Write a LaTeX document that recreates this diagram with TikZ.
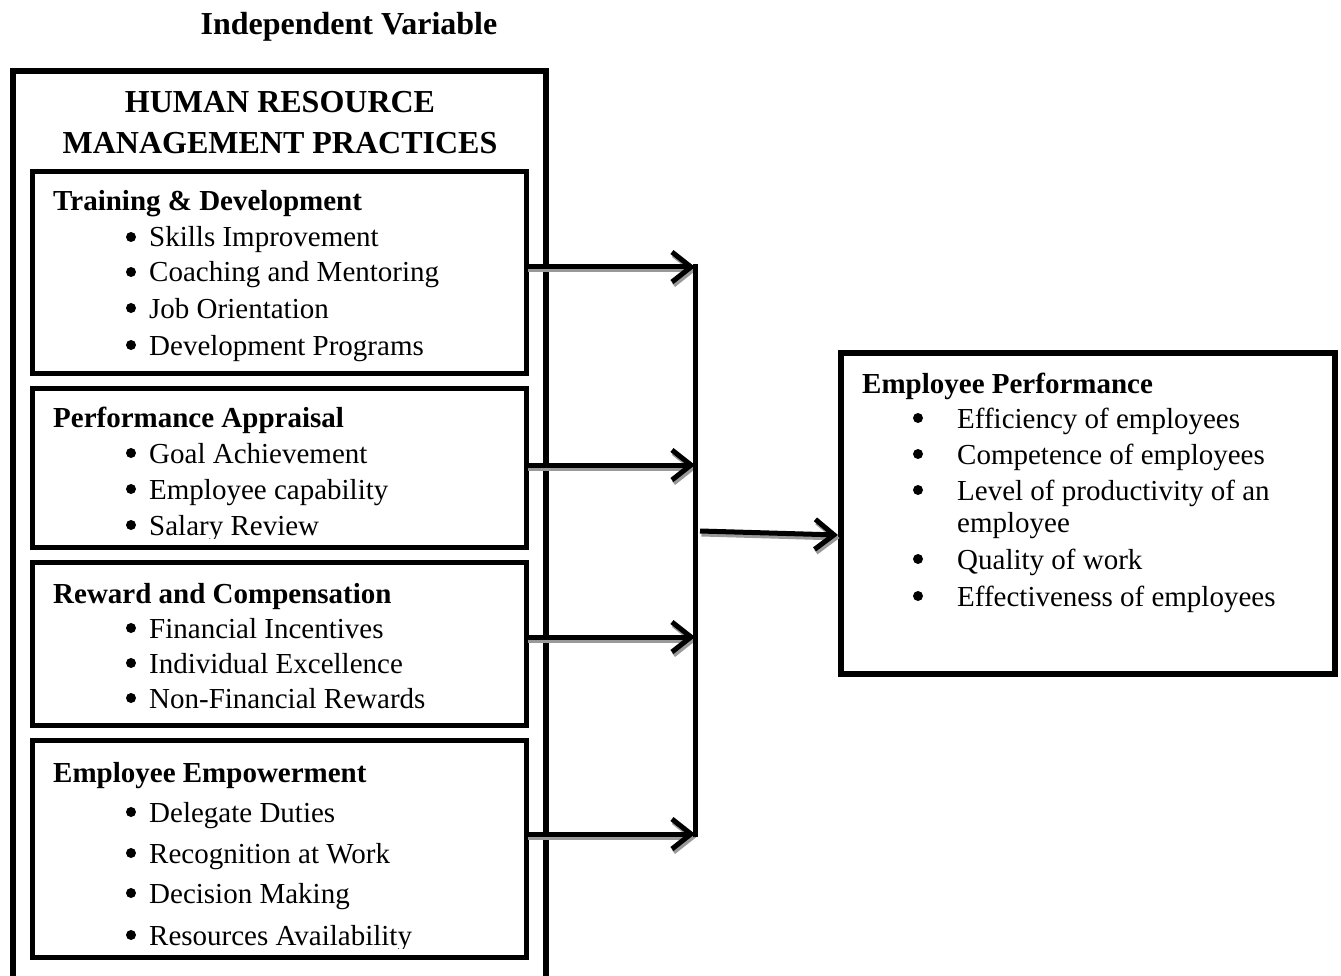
\documentclass[tikz,border=0pt]{standalone}
\usepackage{fontspec}
\setmainfont{Liberation Serif}
\usetikzlibrary{arrows.meta}
\begin{document}
\begin{tikzpicture}[x=1pt,y=-1pt,
  title/.style={anchor=base,inner sep=0pt,font=\fontsize{32}{38}\selectfont\bfseries},
  head/.style={anchor=base west,inner sep=0pt,font=\fontsize{29}{35}\selectfont\bfseries},
  item/.style={anchor=base west,inner sep=0pt,font=\fontsize{29}{35}\selectfont},
  bul/.style={circle,fill=black,inner sep=0pt,minimum size=10pt,yshift=10pt},
  frame/.style={draw=black,line width=5pt,line join=miter},
  conn/.style={line width=5pt,line cap=butt},
  arr/.style={conn,-{Straight Barb[length=19pt,width=30pt,line join=miter]}},
  shadowarr/.style={arr,draw=black!40}
]
\useasboundingbox (0,0) rectangle (1341,976);
\fill[white] (0,0) rectangle (1341,976);

% title
\node[title] (iv) at (349,35) {Independent Variable};

% outer box (extends below the picture)
\begin{scope}
\clip (0,0) rectangle (1341,976);
\draw[frame,line width=6pt] (13,71) rectangle (546,1000);
\end{scope}
\node[title] (hrm1) at (280,113) {HUMAN RESOURCE};
\node[title] (hrm2) at (280,154) {MANAGEMENT PRACTICES};

% box 1
\node[head] (h1) at (53,211) {Training \& Development};
\node[bul] (b11) at (131,247) {}; \node[item] (t11) at (149,247) {Skills Improvement};
\node[bul] (b12) at (131,282) {}; \node[item] (t12) at (149,282) {Coaching and Mentoring};
\node[bul] (b13) at (131,318) {}; \node[item] (t13) at (149,318) {Job Orientation};
\node[bul] (b14) at (131,355) {}; \node[item] (t14) at (149,355) {Development Programs};
\draw[frame] (32,172) rectangle (526,373);

% box 2
\node[head] (h2) at (53,427) {Performance Appraisal};
\node[bul] (b21) at (131,463) {}; \node[item] (t21) at (149,463) {Goal Achievement};
\node[bul] (b22) at (131,499) {}; \node[item] (t22) at (149,499) {Employee capability};
\begin{scope}
\clip (0,0) rectangle (1341,538);
\node[bul] (b23) at (131,535) {}; \node[item] (t23) at (149,535) {Salary Review};
\end{scope}
\draw[frame] (32,388) rectangle (526,547);

% box 3
\node[head] (h3) at (53,603) {Reward and Compensation};
\node[bul] (b31) at (131,638) {}; \node[item] (t31) at (149,638) {Financial Incentives};
\node[bul] (b32) at (131,673) {}; \node[item] (t32) at (149,673) {Individual Excellence};
\node[bul] (b33) at (131,708) {}; \node[item] (t33) at (149,708) {Non-Financial Rewards};
\draw[frame] (32,562) rectangle (526,725);

% box 4
\node[head] (h4) at (53,782) {Employee Empowerment};
\node[bul] (b41) at (131,822) {}; \node[item] (t41) at (149,822) {Delegate Duties};
\node[bul] (b42) at (131,863) {}; \node[item] (t42) at (149,863) {Recognition at Work};
\node[bul] (b43) at (131,903) {}; \node[item] (t43) at (149,903) {Decision Making};
\begin{scope}
\clip (0,0) rectangle (1341,948);
\node[bul] (b44) at (131,945) {}; \node[item] (t44) at (149,945) {Resources Availability};
\end{scope}
\draw[frame] (32,740) rectangle (526,957);

% right box
\draw[frame,line width=6pt] (841,353) rectangle (1335,674);
\node[head] (hr) at (862,393) {Employee Performance};
\node[bul] (br1) at (918,428) {}; \node[item] (tr1) at (957,428) {Efficiency of employees};
\node[bul] (br2) at (918,464) {}; \node[item] (tr2) at (957,464) {Competence of employees};
\node[bul] (br3) at (918,500) {}; \node[item] (tr3) at (957,500) {Level of productivity of an};
\node[item] (tr3b) at (957,532) {employee};
\node[bul] (br4) at (918,569) {}; \node[item] (tr4) at (957,569) {Quality of work};
\node[bul] (br5) at (918,606) {}; \node[item] (tr5) at (957,606) {Effectiveness of employees};

% connector coordinates
\coordinate (s1) at (526,267); \coordinate (e1) at (695,267);
\coordinate (s2) at (526,465); \coordinate (e2) at (695,465);
\coordinate (s3) at (526,637); \coordinate (e3) at (695,637);
\coordinate (s4) at (526,834); \coordinate (e4) at (695,834);
\coordinate (vtop) at (695,264.5); \coordinate (vbot) at (695,836.5);
\coordinate (ms) at (700,531); \coordinate (me) at (838,535);

% shadows
\foreach \a/\b in {s1/e1,s2/e2,s3/e3,s4/e4,ms/me}
  \draw[shadowarr] ([shift={(1.5,3)}]\a) -- ([shift={(1.5,3)}]\b);
% arrows
\foreach \a/\b in {s1/e1,s2/e2,s3/e3,s4/e4,ms/me}
  \draw[arr] (\a) -- (\b);
\draw[conn] (vtop) -- (vbot);
\end{tikzpicture}
\end{document}
